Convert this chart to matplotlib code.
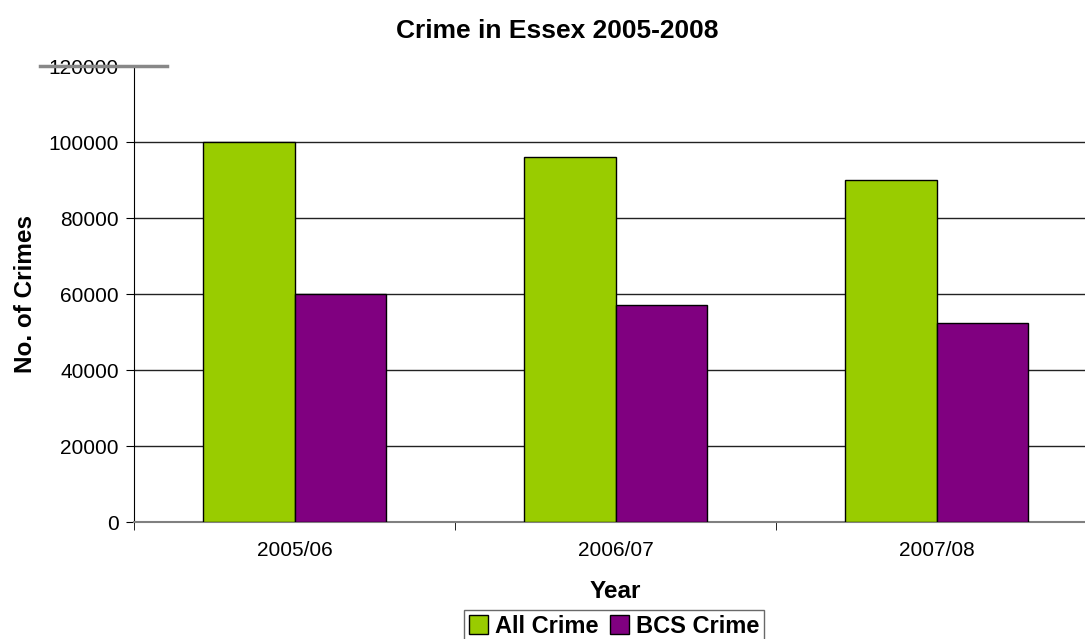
import matplotlib
matplotlib.use("Agg")
import matplotlib.pyplot as plt
from matplotlib import font_manager
from matplotlib.lines import Line2D
import numpy as np

years = ["2005/06", "2006/07", "2007/08"]
all_crime = [100000, 96000, 90000]
bcs_crime = [60000, 57000, 52300]
yticks = [0, 20000, 40000, 60000, 80000, 100000, 120000]

GREEN = "#99CC00"
PURPLE = "#800080"

plt.rcParams['font.family'] = ['Liberation Sans', 'DejaVu Sans']
names = {f.name for f in font_manager.fontManager.ttflist}
title_family = 'Liberation Sans Narrow' if 'Liberation Sans Narrow' in names else 'Liberation Sans'

W, H = 1085, 639
fig = plt.figure(figsize=(W / 100, H / 100), dpi=100)
ax = fig.add_axes([134 / W, 117 / H, 963 / W, 456 / H])

x = np.arange(len(years))
w = 0.285
ax.bar(x - w / 2, all_crime, w, color=GREEN, edgecolor="black", linewidth=1, label="All Crime", zorder=3)
ax.bar(x + w / 2, bcs_crime, w, color=PURPLE, edgecolor="black", linewidth=1, label="BCS Crime", zorder=3)

ax.set_xlim(-0.5, 2.5)
ax.set_ylim(0, 120000)
ax.set_yticks(yticks)
ax.set_yticklabels([str(v) for v in yticks], fontsize=15)
ax.set_xticks(x)
ax.set_xticklabels(years, fontsize=15)
ax.tick_params(axis='x', length=0, pad=14)
ax.set_xticks([-0.5, 0.5, 1.5, 2.5], minor=True)
ax.tick_params(axis='x', which='minor', length=6, color="black")
ax.tick_params(axis='y', length=6, pad=5, color="black")

for v in yticks[1:-1]:
    ax.axhline(v, color="#222222", linewidth=1, zorder=1)

for s in ["top", "right"]:
    ax.spines[s].set_visible(False)
ax.spines["left"].set_color("black")
ax.spines["bottom"].set_color("#808080")
ax.spines["bottom"].set_linewidth(1.5)

# gray stub line at top
ax.add_line(Line2D([(40 - 134) / 963, (167 - 134) / 963], [1, 1], transform=ax.transAxes,
                   color="#888888", linewidth=2.5, clip_on=False, zorder=5))

ax.set_xlabel("Year", fontsize=17.5, fontweight="bold", labelpad=14)
ax.set_ylabel("No. of Crimes", fontsize=17.5, fontweight="bold")
ax.yaxis.set_label_coords(-(134 - 37) / 963, 0.5)

fig.text(557 / W, 1 - 31 / H, "Crime in Essex 2005-2008", ha="center", va="center",
         fontsize=19, fontweight="bold", family=[title_family, 'DejaVu Sans'])

leg = fig.legend(loc="upper center", bbox_to_anchor=(614 / W, 1 - 610 / H), ncol=2,
                 prop={'weight': 'bold', 'size': 17}, frameon=True, fancybox=False,
                 edgecolor="#444444", handlelength=0.8, handleheight=0.8, handletextpad=0.3,
                 columnspacing=0.5, borderpad=0.2, borderaxespad=0)
leg.get_frame().set_linewidth(1)

fig.savefig("out.png", dpi=100)
